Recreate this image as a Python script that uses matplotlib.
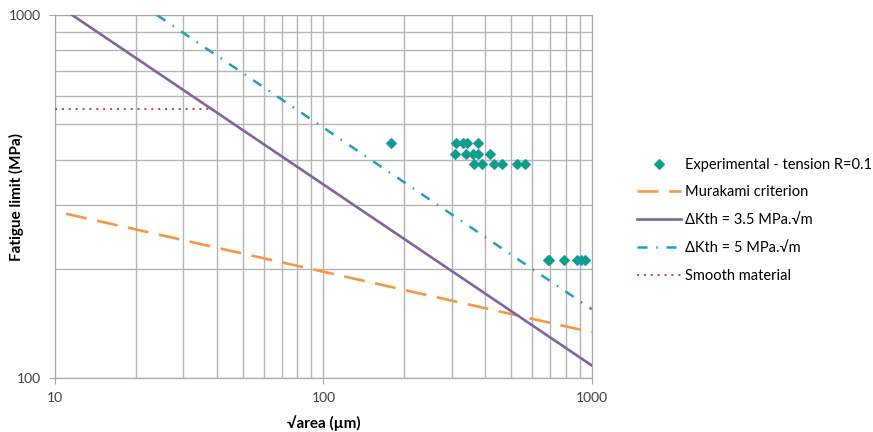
import numpy as np
import matplotlib.pyplot as plt
from matplotlib.ticker import LogLocator, FixedLocator, NullFormatter

plt.rcParams['font.family'] = ['Lato', 'DejaVu Sans']

# experimental fatigue limits (tension, R=0.1)
exp_area = [178, 311, 332, 344, 375,
            308, 340, 360, 378, 417,
            365, 391, 433, 461, 528, 563,
            684, 690, 787, 882, 912, 944]
exp_limit = [446, 446, 446, 446, 446,
             416, 416, 416, 416, 416,
             390, 390, 390, 390, 390, 390,
             212, 212, 212, 212, 212, 212]

# model curves, straight lines in log-log space
murakami_area = [11, 1000]
murakami_limit = [284, 134]
dk35_area = [11.6, 1000]
dk35_limit = [1000, 108.5]
dk5_area = [24, 1000]
dk5_limit = [1000, 155]
smooth_area = [10, 38]
smooth_limit = [550, 550]

fig = plt.figure(figsize=(8.73, 4.32), dpi=100)
ax = fig.add_axes([0.063, 0.124, 0.615, 0.841])

ax.plot(exp_area, exp_limit, linestyle='none', marker='D', markersize=5.6,
        markerfacecolor='#00a870', markeredgecolor='#2a8fc0', markeredgewidth=0.8,
        label='Experimental - tension R=0.1', zorder=5)
ax.plot(murakami_area, murakami_limit, color='#f79646', lw=1.9,
        linestyle=(0, (8, 4)), label='Murakami criterion', zorder=3)
ax.plot(dk35_area, dk35_limit, color='#8064a2', lw=1.9,
        label='ΔKth = 3.5 MPa.√m', zorder=3)
ax.plot(dk5_area, dk5_limit, color='#1ba3b9', lw=1.8,
        linestyle=(0, (4, 3.5, 0.6, 3.5)), label='ΔKth = 5 MPa.√m', zorder=3)
ax.plot(smooth_area, smooth_limit, color='#c0504d', lw=1.5,
        linestyle=(0, (1, 2.3)), label='Smooth material', zorder=3)

ax.set_xscale('log')
ax.set_yscale('log')
ax.set_xlim(10, 1000)
ax.set_ylim(100, 1000)

ax.xaxis.set_major_locator(FixedLocator([10, 100, 1000]))
ax.yaxis.set_major_locator(FixedLocator([100, 1000]))
ax.set_xticklabels(['10', '100', '1000'])
ax.set_yticklabels(['100', '1000'])
ax.xaxis.set_minor_locator(LogLocator(base=10, subs=np.arange(2, 10)))
ax.yaxis.set_minor_locator(LogLocator(base=10, subs=np.arange(2, 10)))
ax.xaxis.set_minor_formatter(NullFormatter())
ax.yaxis.set_minor_formatter(NullFormatter())

ax.grid(True, which='both', color='#b5b5b5', lw=1.0)
ax.set_axisbelow(True)
ax.tick_params(which='major', length=4, color='#a6a6a6', labelsize=10, pad=6,
               labelcolor='#404040')
ax.tick_params(which='minor', length=0)
for side in ['left', 'bottom', 'top', 'right']:
    ax.spines[side].set_color('#a6a6a6')

ax.set_xlabel('√area (µm)', fontsize=11, fontweight='bold', labelpad=8)
ax.set_ylabel('Fatigue limit (MPa)', fontsize=11, fontweight='bold')
ax.yaxis.set_label_coords(-0.058, 0.5)

fig.legend(loc='center left', bbox_to_anchor=(0.715, 0.49), frameon=False,
           fontsize=10.5, handlelength=3.0, handletextpad=0.3, labelspacing=0.95)

fig.savefig('out.png', dpi=100)
